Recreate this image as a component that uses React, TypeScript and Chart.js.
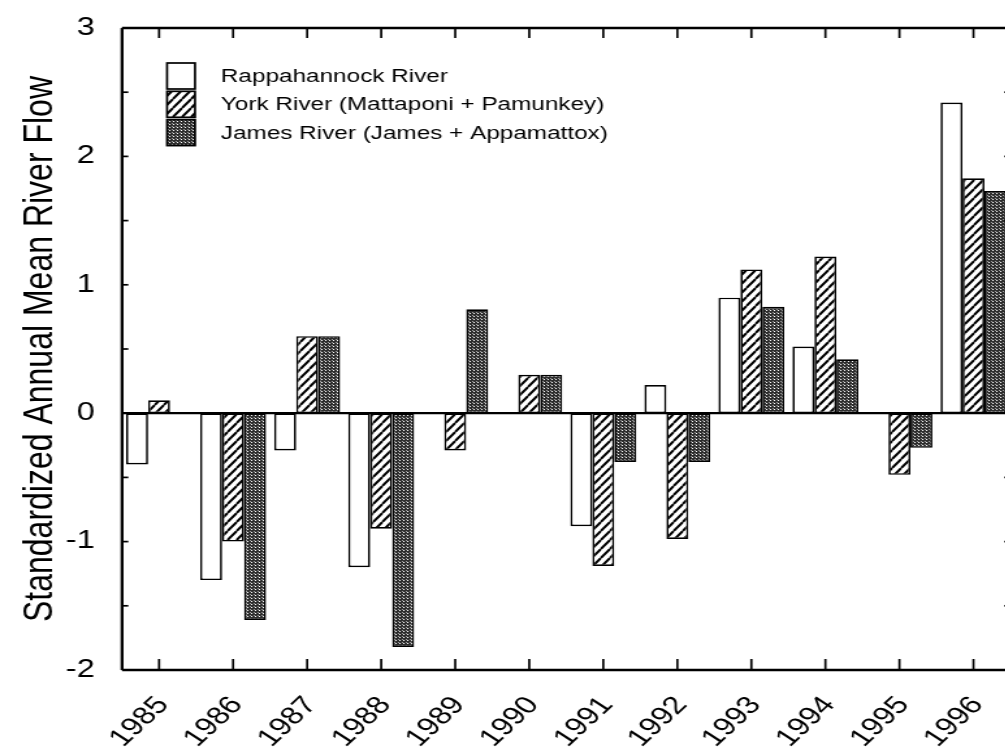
import React, { useEffect, useRef } from 'react';
import { Chart, registerables } from 'chart.js';

Chart.register(...registerables);

// Standardized annual mean river flow by year
const years = ['1985', '1986', '1987', '1988', '1989', '1990', '1991', '1992', '1993', '1994', '1995', '1996'];
const rappahannock = [-0.4, -1.3, -0.29, -1.2, 0, 0, -0.88, 0.22, 0.9, 0.52, 0, 2.42];
const york = [0.1, -1.0, 0.6, -0.9, -0.29, 0.3, -1.19, -0.98, 1.12, 1.22, -0.48, 1.83];
const james = [0, -1.61, 0.6, -1.82, 0.81, 0.3, -0.38, -0.38, 0.83, 0.42, -0.27, 1.73];
const seriesLabels = [
  'Rappahannock River',
  'York River (Mattaponi + Pamunkey)',
  'James River (James + Appamattox)',
];
const axisTitle = 'Standardized Annual Mean River Flow';
const yMin = -2;
const yMax = 3;
const yStep = 0.5;

// The figure is drawn in a narrower coordinate space and widened by CSS.
const STRETCH = 1.3;
const CANVAS_W = 792;
const CANVAS_H = 755;
const FONT = '"Liberation Sans", Arial, Helvetica, sans-serif';

function makeHatch(): CanvasPattern | string {
  const c = document.createElement('canvas');
  const w = 7;
  const h = 9;
  c.width = w;
  c.height = h;
  const g = c.getContext('2d');
  if (!g) return '#888';
  g.fillStyle = '#fff';
  g.fillRect(0, 0, w, h);
  g.strokeStyle = '#000';
  g.lineWidth = 2.0;
  g.beginPath();
  for (const k of [-1, 0, 1]) {
    g.moveTo(k * w, h);
    g.lineTo(k * w + w, 0);
  }
  g.stroke();
  return g.createPattern(c, 'repeat') || '#888';
}

function makeStipple(): CanvasPattern | string {
  const c = document.createElement('canvas');
  c.width = 3;
  c.height = 3;
  const g = c.getContext('2d');
  if (!g) return '#555';
  g.fillStyle = '#2e2e2e';
  g.fillRect(0, 0, 3, 3);
  g.fillStyle = '#ffffff';
  g.fillRect(1, 1, 1, 1);
  g.fillStyle = '#a0a0a0';
  g.fillRect(0, 0, 1, 1);
  return g.createPattern(c, 'repeat') || '#555';
}

const framePlugin = {
  id: 'frameAndLegend',
  afterDraw(chart: any) {
    const { ctx, chartArea: a, scales } = chart;
    const xs = scales.x;
    const ys = scales.y;
    const line = (x1: number, y1: number, x2: number, y2: number) => {
      ctx.beginPath();
      ctx.moveTo(x1, y1);
      ctx.lineTo(x2, y2);
      ctx.stroke();
    };
    ctx.save();
    ctx.strokeStyle = '#000';
    ctx.lineCap = 'butt';

    // zero reference line
    const y0 = ys.getPixelForValue(0);
    ctx.lineWidth = 2.2;
    line(a.left, y0, a.right, y0);

    // plot frame
    ctx.lineWidth = 2.6;
    line(a.left, a.top, a.right, a.top);
    line(a.left, a.bottom, a.right, a.bottom);
    ctx.lineWidth = 2.3;
    line(a.left, a.top, a.left, a.bottom);
    line(a.right, a.top, a.right, a.bottom);

    // inward tick marks
    ctx.lineWidth = 1.7;
    ys.ticks.forEach((t: any) => {
      const py = ys.getPixelForValue(t.value);
      line(a.left, py, a.left + 4.8, py);
      line(a.right, py, a.right - 4.8, py);
    });
    xs.ticks.forEach((_t: any, i: number) => {
      const px = xs.getPixelForTick(i);
      line(px, a.bottom, px, a.bottom - 11);
      line(px, a.top, px, a.top + 10);
    });

    // legend inside the plot
    const boxX = a.left + 34.6;
    const boxW = 21.5;
    const boxH = 26;
    const rowH = 28.3;
    const top = a.top + 35;
    ctx.font = `18.7px ${FONT}`;
    ctx.textBaseline = 'middle';
    ctx.textAlign = 'left';
    chart.data.datasets.forEach((ds: any, i: number) => {
      const by = top + i * rowH;
      ctx.fillStyle = ds.backgroundColor;
      ctx.fillRect(boxX, by, boxW, boxH);
      ctx.lineWidth = 1.7;
      ctx.strokeRect(boxX, by, boxW, boxH);
      ctx.fillStyle = '#000';
      ctx.fillText(ds.label, a.left + 76, by + boxH / 2 + 1);
    });
    ctx.restore();
  },
};

export default function App() {
  const canvasRef = useRef<HTMLCanvasElement | null>(null);

  useEffect(() => {
    const canvas = canvasRef.current;
    if (!canvas) return;
    const fills = ['#ffffff', makeHatch(), makeStipple()];
    const values = [rappahannock, york, james];
    const chart = new Chart(canvas, {
      type: 'bar',
      data: {
        labels: years,
        datasets: values.map((v, i) => ({
          label: seriesLabels[i],
          data: v,
          backgroundColor: fills[i] as any,
          borderColor: '#000',
          borderWidth: 1.7,
          borderSkipped: false,
          categoryPercentage: 0.89,
          barPercentage: 1.0,
        })),
      },
      options: {
        responsive: false,
        devicePixelRatio: 1,
        animation: false,
        events: [],
        layout: { padding: { top: 17, right: 15, left: 0, bottom: 0 } },
        plugins: {
          legend: { display: false },
          tooltip: { enabled: false },
          title: { display: false },
        },
        scales: {
          x: {
            grid: { display: false },
            border: { display: false },
            ticks: {
              autoSkip: false,
              minRotation: 50,
              maxRotation: 50,
              padding: 13,
              labelOffset: 3,
              color: '#000',
              font: { family: FONT, size: 25 },
            },
            afterFit: (scale: any) => {
              scale.height = 85;
            },
          },
          y: {
            min: yMin,
            max: yMax,
            grid: { display: false },
            border: { display: false },
            ticks: {
              stepSize: yStep,
              padding: 13,
              color: '#000',
              font: { family: FONT, size: 25 },
              callback: (v: any) => (Number.isInteger(Number(v)) ? String(v) : ''),
            },
            title: {
              display: true,
              text: axisTitle,
              color: '#000',
              font: { family: FONT, size: 32 },
              padding: { top: 11.6, bottom: 0 },
            },
            afterFit: (scale: any) => {
              scale.width = 93.85;
            },
          },
        },
      },
      plugins: [framePlugin],
    });
    return () => chart.destroy();
  }, []);

  return (
    <div
      style={{
        position: 'fixed',
        left: 0,
        top: 0,
        width: 1005,
        height: 755,
        overflow: 'hidden',
        background: '#fff',
      }}
    >
      <canvas
        ref={canvasRef}
        width={CANVAS_W}
        height={CANVAS_H}
        style={{ display: 'block', width: `${CANVAS_W * STRETCH}px`, height: `${CANVAS_H}px` }}
      />
    </div>
  );
}
